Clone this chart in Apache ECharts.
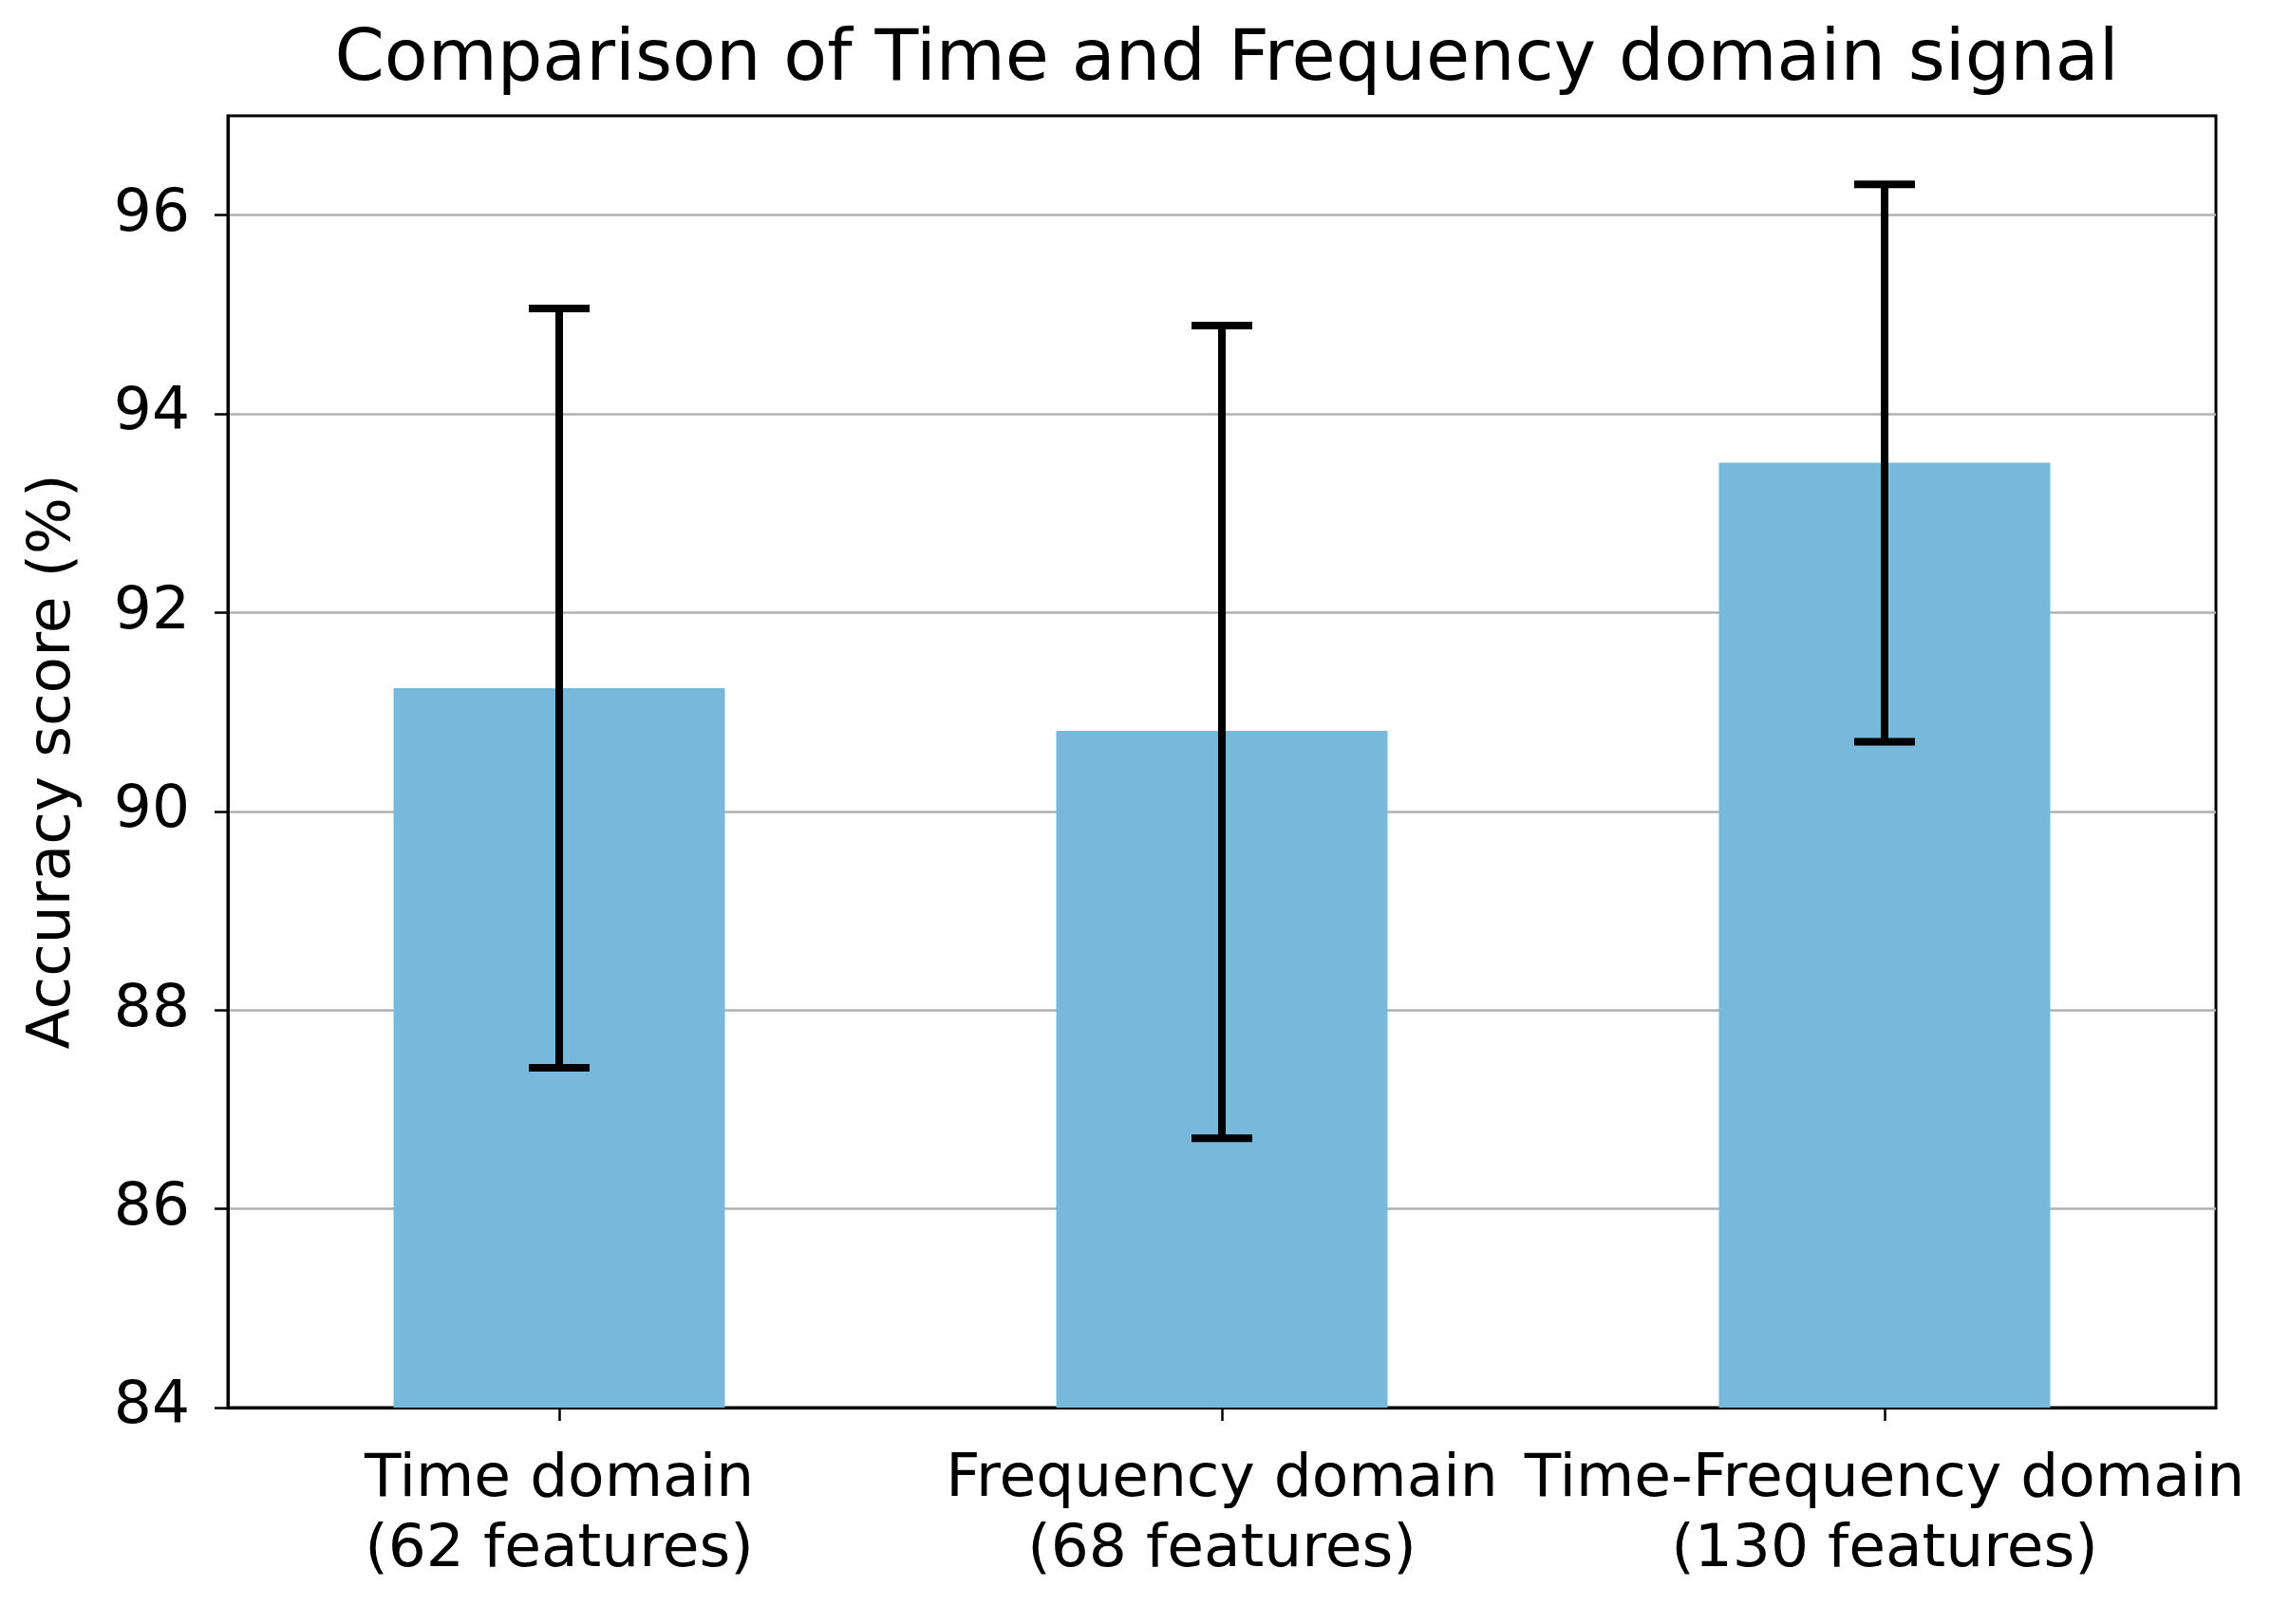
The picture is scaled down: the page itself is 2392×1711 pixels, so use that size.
<!DOCTYPE html>
<html>
<head>
<meta charset="utf-8">
<script src="https://cdn.jsdelivr.net/npm/echarts@6/dist/echarts.min.js"></script>
<style>
html,body{margin:0;padding:0;background:#fff;}
#chart{width:2392px;height:1711px;}
</style>
</head>
<body>
<div id="chart"></div>
<script>
var categories = ['Time domain\n(62 features)', 'Frequency domain\n(68 features)', 'Time-Frequency domain\n(130 features)'];
var accuracy = [91.24, 90.81, 93.51];
var errLow = [87.42, 86.71, 90.70];
var errHigh = [95.06, 94.89, 96.31];
var yTicks = [84, 86, 88, 90, 92, 94, 96];

var FONT = 'DejaVu Sans';
var chart = echarts.init(document.getElementById('chart'), null, {renderer: 'canvas'});

var errData = categories.map(function (c, i) { return [i, errLow[i], errHigh[i]]; });

chart.setOption({
  backgroundColor: '#ffffff',
  animation: false,
  title: {
    text: 'Comparison of Time and Frequency domain signal',
    left: 1287, textAlign: 'center', top: 22,
    textStyle: {fontFamily: FONT, fontSize: 75, fontWeight: 'normal', color: '#000'}
  },
  grid: {
    left: 240, right: 58, top: 122, bottom: 228,
    show: true, borderColor: '#000', borderWidth: 3, backgroundColor: 'transparent'
  },
  xAxis: {
    type: 'category',
    data: categories,
    boundaryGap: true,
    axisLine: {show: true, lineStyle: {color: '#000', width: 3}},
    axisTick: {show: true, alignWithLabel: true, length: 14, lineStyle: {color: '#000', width: 2.5}},
    axisLabel: {
      fontFamily: FONT, fontSize: 63, color: '#000', margin: 40,
      lineHeight: 74, align: 'center', interval: 0
    },
    splitLine: {show: false}
  },
  yAxis: {
    type: 'value',
    min: 84, max: 97, interval: 2,
    name: 'Accuracy score (%)',
    nameLocation: 'middle',
    nameGap: 152,
    nameRotate: 90,
    nameTextStyle: {fontFamily: FONT, fontSize: 63, color: '#000'},
    axisLine: {show: true, lineStyle: {color: '#000', width: 3}},
    axisTick: {show: true, length: 14, lineStyle: {color: '#000', width: 2.5}, customValues: yTicks},
    axisLabel: {fontFamily: FONT, fontSize: 63, color: '#000', margin: 40, customValues: yTicks},
    splitLine: {show: true, lineStyle: {color: '#b0b0b0', width: 2.5}}
  },
  series: [
    {
      type: 'bar',
      data: accuracy,
      barWidth: '50%',
      itemStyle: {color: '#78b9db'},
      z: 2
    },
    {
      type: 'custom',
      data: errData,
      z: 5,
      renderItem: function (params, api) {
        var x = api.value(0);
        var lo = api.coord([x, api.value(1)]);
        var hi = api.coord([x, api.value(2)]);
        var hw = 32;
        var st = {stroke: '#000', lineWidth: 8};
        return {
          type: 'group',
          children: [
            {type: 'line', shape: {x1: lo[0], y1: lo[1], x2: hi[0], y2: hi[1]}, style: st},
            {type: 'line', shape: {x1: hi[0] - hw, y1: hi[1], x2: hi[0] + hw, y2: hi[1]}, style: st},
            {type: 'line', shape: {x1: lo[0] - hw, y1: lo[1], x2: lo[0] + hw, y2: lo[1]}, style: st}
          ]
        };
      }
    }
  ]
});
</script>
</body>
</html>
